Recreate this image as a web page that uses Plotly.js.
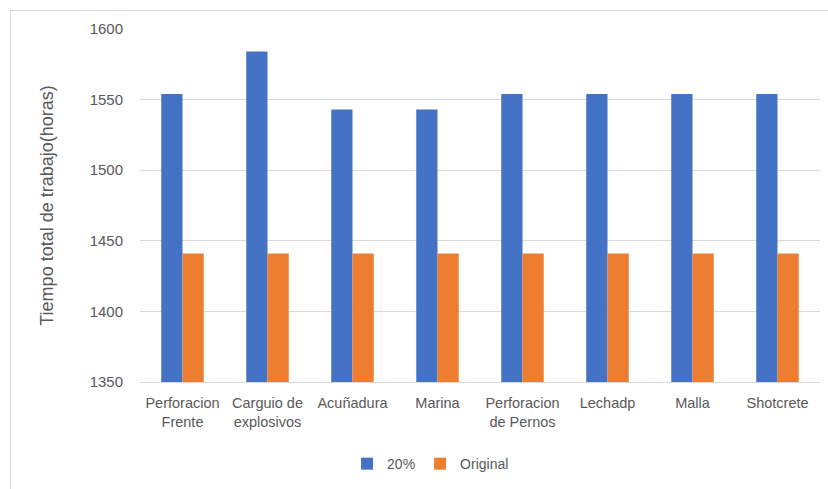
<!DOCTYPE html>
<html><head><meta charset="utf-8">
<script src="https://cdn.plot.ly/plotly-3.0.1.min.js"></script>
<style>
html,body{margin:0;padding:0;background:#fff;overflow:hidden;}
#frame{position:absolute;left:10px;top:10px;width:900px;height:600px;border:1px solid #d9d9d9;box-sizing:border-box;}
#chart{position:absolute;left:0;top:0;width:828px;height:489px;}
</style></head>
<body>
<div id="frame"></div>
<div id="chart"></div>
<script>
const categories = ["Perforacion<br>Frente","Carguio de<br>explosivos","Acuñadura","Marina","Perforacion<br>de Pernos","Lechadp","Malla","Shotcrete"];
const series20 = [1554,1584,1543,1543,1554,1554,1554,1554];
const seriesOriginal = [1441,1441,1441,1441,1441,1441,1441,1441];
const yTicks = [1350,1400,1450,1500,1550,1600];

const font = "Liberation Sans, Arial, sans-serif";
const traces = [
  {type:'bar', name:'20%', x:categories, y:series20, marker:{color:'#4472C4'}},
  {type:'bar', name:'Original', x:categories, y:seriesOriginal, marker:{color:'#ED7D31'}}
];
const layout = {
  width:828, height:489,
  margin:{l:140, r:8, t:29, b:107},
  paper_bgcolor:'rgba(0,0,0,0)', plot_bgcolor:'rgba(0,0,0,0)',
  barmode:'group', bargap:0.5, bargroupgap:0,
  font:{family:font, color:'#595959', size:14},
  xaxis:{showgrid:false, showline:true, linecolor:'#d9d9d9', linewidth:1, ticks:'', ticklabelstandoff:8, tickfont:{size:14.5, color:'#595959'}, automargin:false},
  yaxis:{range:[1350,1600], tickvals:yTicks, ticktext:yTicks.map(String), showgrid:true, gridcolor:'#d9d9d9', gridwidth:1, zeroline:false, showline:false, ticks:'', ticklen:0, ticklabelstandoff:16, tickfont:{size:15, color:'#595959'},
    title:{text:'Tiempo total de trabajo(horas)', font:{size:18, color:'#595959'}, standoff:31}, automargin:false},
  showlegend:true,
  legend:{orientation:'h', xref:'container', yref:'container', x:0.52, y:0.051, xanchor:'center', yanchor:'middle', font:{size:14, color:'#595959'}, itemwidth:30, traceorder:'normal'}
};
Plotly.newPlot('chart', traces, layout, {staticPlot:true, displayModeBar:false});
</script>
</body></html>
